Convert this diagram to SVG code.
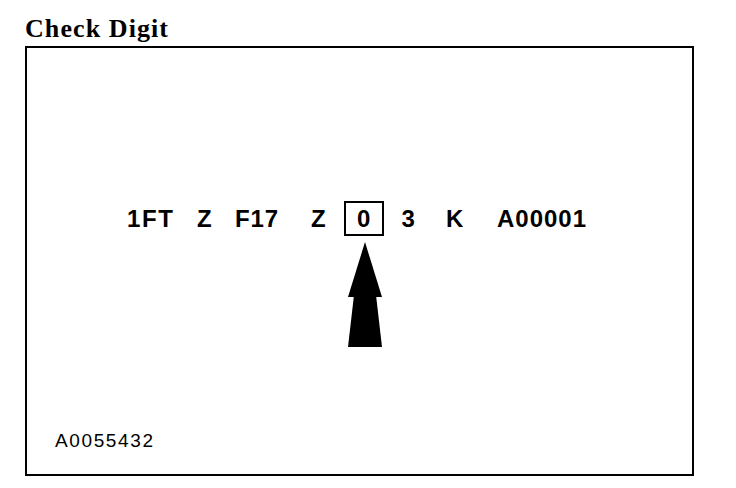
<svg xmlns="http://www.w3.org/2000/svg" width="736" height="488" viewBox="0 0 736 488">
  <style>
    .title { font-family: "Liberation Serif", "Times New Roman", serif; font-weight: bold; font-size: 26px; fill: #000; }
    .vin { font-family: "Liberation Sans", Arial, sans-serif; font-weight: bold; font-size: 24px; fill: #000; }
    .fig { font-family: "Liberation Sans", Arial, sans-serif; font-size: 19px; fill: #000; }
    .frame { fill: none; stroke: #000; stroke-width: 2; }
  </style>
  <rect width="736" height="488" fill="#fff"/>
  <g id="title">
    <text class="title" x="25" y="37" textLength="143" lengthAdjust="spacing">Check Digit</text>
  </g>
  <g id="frame">
    <rect class="frame" x="26" y="47" width="667" height="428"/>
  </g>
  <g id="vin">
    <text class="vin" x="127" y="227" textLength="46" lengthAdjust="spacing">1FT</text>
    <text class="vin" x="197" y="227">Z</text>
    <text class="vin" x="235" y="227" textLength="43" lengthAdjust="spacing">F17</text>
    <text class="vin" x="311" y="227">Z</text>
    <text class="vin" x="401.5" y="227">3</text>
    <text class="vin" x="446" y="227">K</text>
    <text class="vin" x="497" y="227" textLength="89" lengthAdjust="spacing">A00001</text>
  </g>
  <g id="check-digit">
    <rect class="frame" x="345" y="202" width="38" height="33"/>
    <text class="vin" x="357" y="227">0</text>
  </g>
  <g id="connectors">
    <g id="arrow">
      <polygon points="365,242 382,297 348,297" fill="#000"/>
      <polygon points="354,295 376,295 382,347 348,347" fill="#000"/>
    </g>
  </g>
  <g id="figure-id">
    <text class="fig" x="55" y="447" textLength="98" lengthAdjust="spacing">A0055432</text>
  </g>
</svg>
